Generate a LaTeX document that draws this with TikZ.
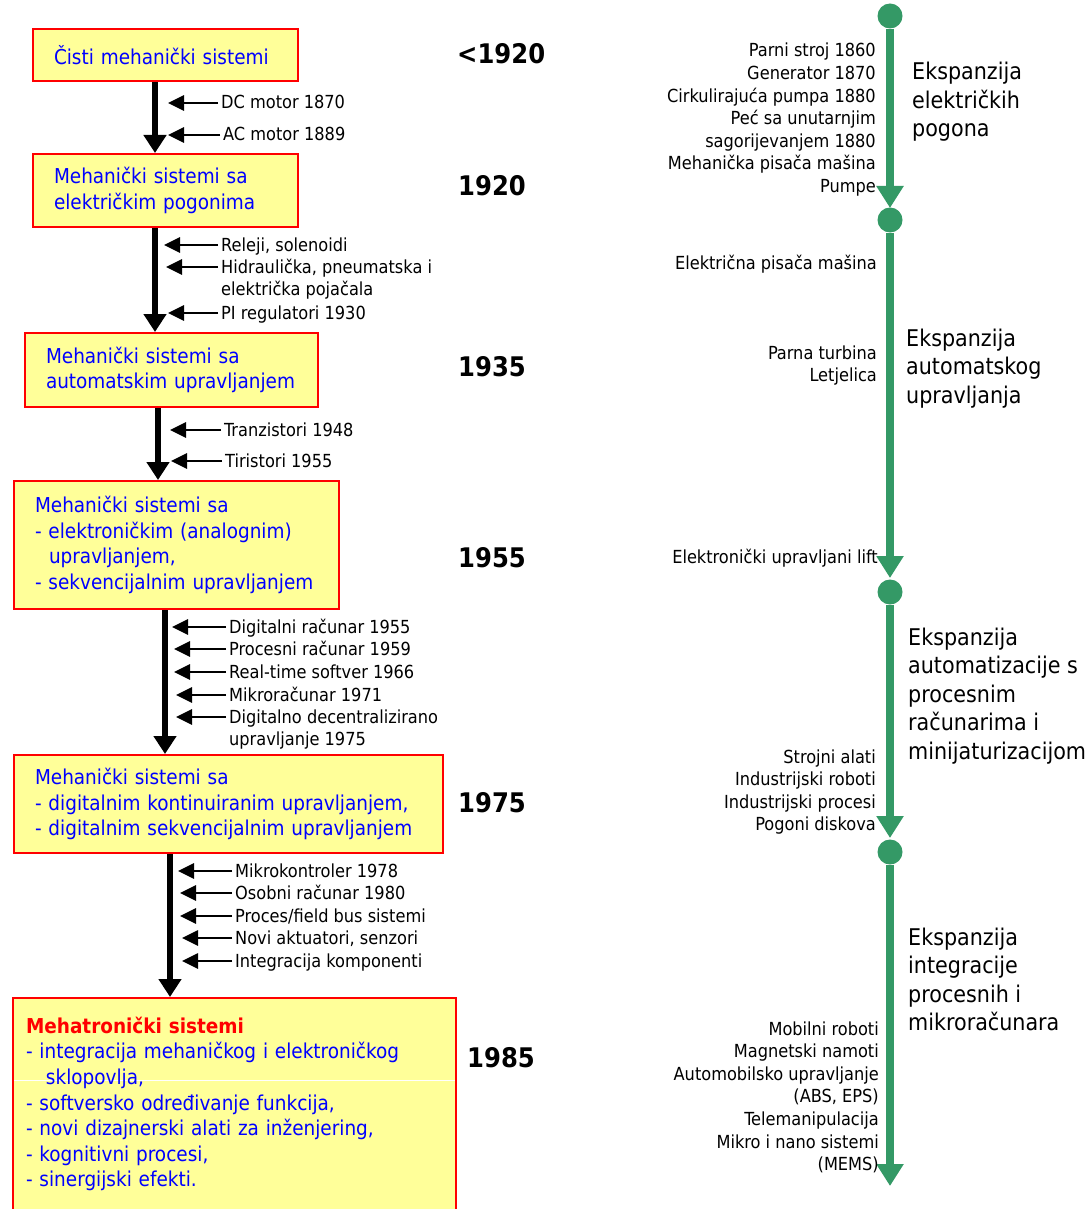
\documentclass[tikz,border=0pt]{standalone}
\usepackage{fontspec}
\setmainfont{DejaVu Sans Condensed}
\usetikzlibrary{arrows.meta}

\definecolor{boxyellow}{RGB}{255,255,153}
\definecolor{tgreen}{RGB}{52,153,102}

\newcommand\itemfont{\fontsize{18}{22.6}\selectfont}
\newcommand\boxfont{\fontsize{20.5}{25.6}\selectfont}
\newcommand\erafont{\fontsize{23}{28.5}\selectfont}
\newcommand\yearfont{\fontsize{27}{32}\selectfont\bfseries}
\newcommand\lft[1]{\begin{tabular}[t]{@{}l@{}}#1\end{tabular}}
\newcommand\rgt[1]{\begin{tabular}[t]{@{}r@{}}#1\end{tabular}}

\begin{document}
\begin{tikzpicture}[
      x=1pt, y=-1pt,
      sysbox/.style={rectangle, draw=red, line width=2pt, fill=boxyellow,
                     text=blue, font=\boxfont, align=left, anchor=north west,
                     inner xsep=21pt, inner ysep=0pt},
      year/.style  ={font=\yearfont, anchor=west, inner sep=0pt},
      item/.style  ={font=\itemfont, anchor=base west, inner sep=0pt},
      note/.style  ={font=\itemfont, anchor=base east, inner sep=0pt},
      era/.style   ={font=\erafont, anchor=base west, inner sep=0pt},
      flow/.style  ={line width=5.5pt, -{Triangle[length=18pt,width=22pt]}},
      feed/.style  ={line width=2.7pt, -{Triangle[length=16pt,width=15pt]}},
      dot/.style   ={circle, fill=tgreen, minimum size=25pt, inner sep=0pt},
      tline/.style ={draw=tgreen, line width=7.5pt,
                     -{Triangle[length=22pt,width=26pt]}}
    ]
    \useasboundingbox (0,0) rectangle (1090,1209);

    % development stages
    \node[sysbox, text width=223pt, minimum height=52pt] (b1) at (32,28)
      {Čisti mehanički sistemi};
    \node[sysbox, text width=223pt, minimum height=73pt] (b2) at (32,153)
      {Mehanički sistemi sa\\električkim pogonima};
    \node[sysbox, text width=251pt, minimum height=74pt] (b3) at (24,332)
      {Mehanički sistemi sa\\automatskim upravljanjem};
    \node[sysbox, text width=283pt, minimum height=128pt] (b4) at (13,480)
      {Mehanički sistemi sa\\- elektroničkim (analognim)\\\hspace*{14pt}upravljanjem,\\- sekvencijalnim upravljanjem};
    \node[sysbox, text width=387pt, minimum height=98pt] (b5) at (13,754)
      {Mehanički sistemi sa\\- digitalnim kontinuiranim upravljanjem,\\- digitalnim sekvencijalnim upravljanjem};
    \node[sysbox, text width=417pt, inner xsep=13pt, minimum height=212pt,
          path picture={\draw[white, line width=1pt]
            ([shift={(1pt,-82pt)}]path picture bounding box.north west) --
            ([shift={(-1pt,-82pt)}]path picture bounding box.north east);}] (b6) at (12,997)
      {\textcolor{red}{\bfseries Mehatronički sistemi}\\- integracija mehaničkog i elektroničkog\\\hspace*{20pt}sklopovlja,\\- softversko određivanje funkcija,\\- novi dizajnerski alati za inženjering,\\- kognitivni procesi,\\- sinergijski efekti.};

    \draw[flow] (b1.south -| 155,0) -- (b2.north -| 155,0);
    \draw[flow] (b2.south -| 155,0) -- (b3.north -| 155,0);
    \draw[flow] (b3.south -| 158,0) -- (b4.north -| 158,0);
    \draw[flow] (b4.south -| 165,0) -- (b5.north -| 165,0);
    \draw[flow] (b5.south -| 170,0) -- (b6.north -| 170,0);

    % years
    \node[year] (y0) at (457,54)   {<1920};
    \node[year] (y1) at (458,186)  {1920};
    \node[year] (y2) at (458,367)  {1935};
    \node[year] (y3) at (458,558)  {1955};
    \node[year] (y4) at (458,803)  {1975};
    \node[year] (y5) at (467,1058) {1985};

    % inventions feeding in
    \foreach \x/\y/\e/\t [count=\i] in {
        221/103/168/DC motor 1870,
        223/135/168/AC motor 1889,
        221/245/164/{Releji, solenoidi},
        221/267/166/{\lft{Hidraulička, pneumatska i\\električka pojačala}},
        221/313/168/PI regulatori 1930,
        224/430/170/Tranzistori 1948,
        225/461/171/Tiristori 1955,
        229/627/172/Digitalni računar 1955,
        229/649/174/Procesni računar 1959,
        229/672/174/Real-time softver 1966,
        229/695/176/Mikroračunar 1971,
        229/717/176/{\lft{Digitalno decentralizirano\\upravljanje 1975}},
        235/871/178/Mikrokontroler 1978,
        235/893/180/Osobni računar 1980,
        235/916/180/{Proces/field bus sistemi},
        235/938/182/{Novi aktuatori, senzori},
        235/961/182/Integracija komponenti} {
      \node[item] (in\i) at (\x,\y+6) {\t};
      \coordinate (tip\i) at (\e,\y);
      \draw[feed] ([shift={(-3,-6)}]in\i.base west) -- (tip\i);
    }

    % timeline
    \node[dot] (d1) at (890,16)  {};
    \node[dot] (d2) at (890,220) {};
    \node[dot] (d3) at (890,592) {};
    \node[dot] (d4) at (890,852) {};
    \coordinate (e1) at (890,208);
    \coordinate (e2) at (890,578);
    \coordinate (e3) at (890,838);
    \coordinate (e4) at (890,1186);
    \draw[tline] (d1) -- (e1);
    \draw[tline] (d2) -- (e2);
    \draw[tline] (d3) -- (e3);
    \draw[tline] (d4) -- (e4);

    \node[note] (n1) at (876,57)   {\rgt{Parni stroj 1860\\Generator 1870\\Cirkulirajuća pumpa 1880\\Peć sa unutarnjim\\sagorijevanjem 1880\\Mehanička pisača mašina\\Pumpe}};
    \node[note] (n2) at (877,269)  {Električna pisača mašina};
    \node[note] (n3) at (877,359)  {\rgt{Parna turbina\\Letjelica}};
    \node[note] (n4) at (878,563)  {Elektronički upravljani lift};
    \node[note] (n5) at (876,763)  {\rgt{Strojni alati\\Industrijski roboti\\Industrijski procesi\\Pogoni diskova}};
    \node[note] (n6) at (879,1035) {\rgt{Mobilni roboti\\Magnetski namoti\\Automobilsko upravljanje\\(ABS, EPS)\\Telemanipulacija\\Mikro i nano sistemi\\(MEMS)}};

    \node[era] (x1) at (912,80)  {\lft{Ekspanzija\\električkih\\pogona}};
    \node[era] (x2) at (906,346) {\lft{Ekspanzija\\automatskog\\upravljanja}};
    \node[era] (x3) at (908,645) {\lft{Ekspanzija\\automatizacije s\\procesnim\\računarima i\\minijaturizacijom}};
    \node[era] (x4) at (908,945) {\lft{Ekspanzija\\integracije\\procesnih i\\mikroračunara}};
\end{tikzpicture}
\end{document}
